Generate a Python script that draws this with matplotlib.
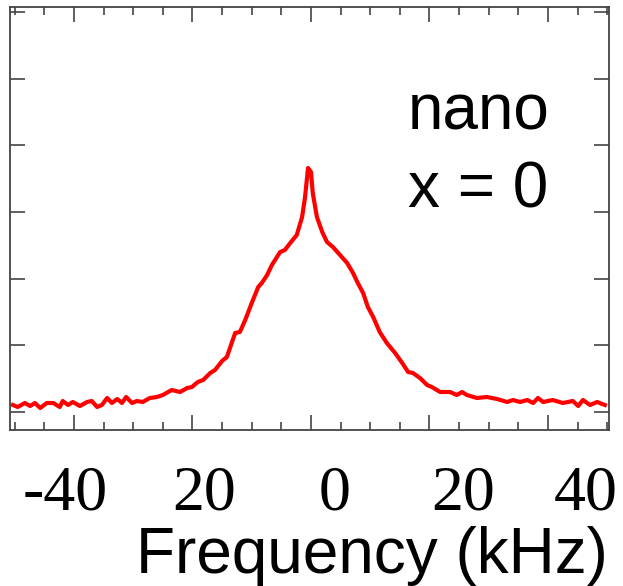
import numpy as np
import matplotlib
matplotlib.use("Agg")
import matplotlib.pyplot as plt
from matplotlib.ticker import MultipleLocator, NullFormatter

#%% data
freq_khz = [-50.3, -49.5, -48.3, -47.4, -46.6, -45.7, -44.6, -43.5, -42.4, -41.9,
            -41.0, -40.2, -39.0, -37.8, -37.0, -36.1, -35.3, -34.4, -33.6, -32.7,
            -31.9, -31.2, -30.2, -29.4, -28.4, -27.2, -26.0, -25.0, -23.5, -22.1,
            -20.9, -20.1, -19.1, -18.2, -17.0, -16.2, -15.0, -14.2, -12.8, -12.0,
            -11.1, -10.0, -8.9, -8.3, -7.4, -6.6, -5.2, -4.4, -3.5, -2.4,
            -1.5, -1.0, -0.5, 0.0, 0.3, 1.0, 1.9, 2.7, 3.7, 4.9,
            6.1, 7.1, 7.9, 8.8, 9.6, 10.5, 11.6, 12.8, 14.2, 15.4,
            16.4, 17.2, 18.4, 19.6, 20.4, 21.8, 23.5, 24.6, 25.5, 26.3,
            28.0, 29.7, 31.4, 33.1, 34.1, 35.3, 36.5, 37.5, 38.3, 39.2,
            40.8, 42.5, 44.2, 45.1, 45.9, 47.1, 48.3, 49.6]
intensity = [0.105, 0.075, 0.135, 0.09, 0.135, 0.06, 0.135, 0.135, 0.075, 0.165,
             0.105, 0.15, 0.09, 0.15, 0.165, 0.075, 0.105, 0.21, 0.135, 0.195,
             0.135, 0.225, 0.135, 0.165, 0.15, 0.21, 0.225, 0.255, 0.33, 0.30,
             0.36, 0.375, 0.45, 0.48, 0.585, 0.63, 0.765, 0.825, 1.185, 1.20,
             1.38, 1.635, 1.875, 1.935, 2.055, 2.205, 2.40, 2.43, 2.535, 2.655,
             2.925, 3.225, 3.66, 3.60, 3.285, 2.925, 2.70, 2.55, 2.475, 2.355,
             2.235, 2.085, 1.935, 1.785, 1.575, 1.425, 1.20, 1.035, 0.885, 0.735,
             0.60, 0.585, 0.51, 0.405, 0.375, 0.30, 0.30, 0.255, 0.30, 0.255,
             0.21, 0.225, 0.195, 0.15, 0.18, 0.15, 0.18, 0.135, 0.21, 0.15,
             0.18, 0.135, 0.165, 0.09, 0.18, 0.105, 0.15, 0.105]

tick_labels = ["-40", "20", "0", "20", "40"]
# the printed labels sit off the tick marks in the original
label_pos = [-41.5, -18.0, 4.0, 25.6, 46.4]

#%% figure
fig = plt.figure(figsize=(6.23, 5.86), dpi=100)
ax = fig.add_axes([10/623, 156/586, 599/623, 423/586])

ax.plot(freq_khz, intensity, color='red', lw=3)
ax.set_xlim(-50.8, 50.3)
ax.set_ylim(-0.27, 6.075)

ax.xaxis.set_major_locator(MultipleLocator(20))
ax.xaxis.set_minor_locator(MultipleLocator(5))
ax.yaxis.set_major_locator(MultipleLocator(1))
ax.xaxis.set_major_formatter(NullFormatter())
ax.yaxis.set_major_formatter(NullFormatter())
gray = '#444444'
ax.tick_params(which='both', direction='in', top=True, right=True, color=gray, width=1.2)
ax.tick_params(which='major', length=11)
ax.tick_params(which='minor', length=6)
for s in ax.spines.values():
    s.set_color(gray)
    s.set_linewidth(1.3)

for p, t in zip(label_pos, tick_labels):
    ax.text(p, -0.189, t, transform=ax.get_xaxis_transform(), ha='center', va='baseline',
            family='Liberation Serif', fontsize=46, clip_on=False)

fig.text(372/623, 13/586, 'Frequency (kHz)', ha='center', va='baseline',
         family='Liberation Sans', fontsize=46)

ax.text(16.4, 4.23, 'nano', ha='left', va='baseline', family='Liberation Sans', fontsize=46)
ax.text(16.4, 3.075, 'x = 0', ha='left', va='baseline', family='Liberation Sans', fontsize=46)

fig.savefig('out.png', dpi=100)
